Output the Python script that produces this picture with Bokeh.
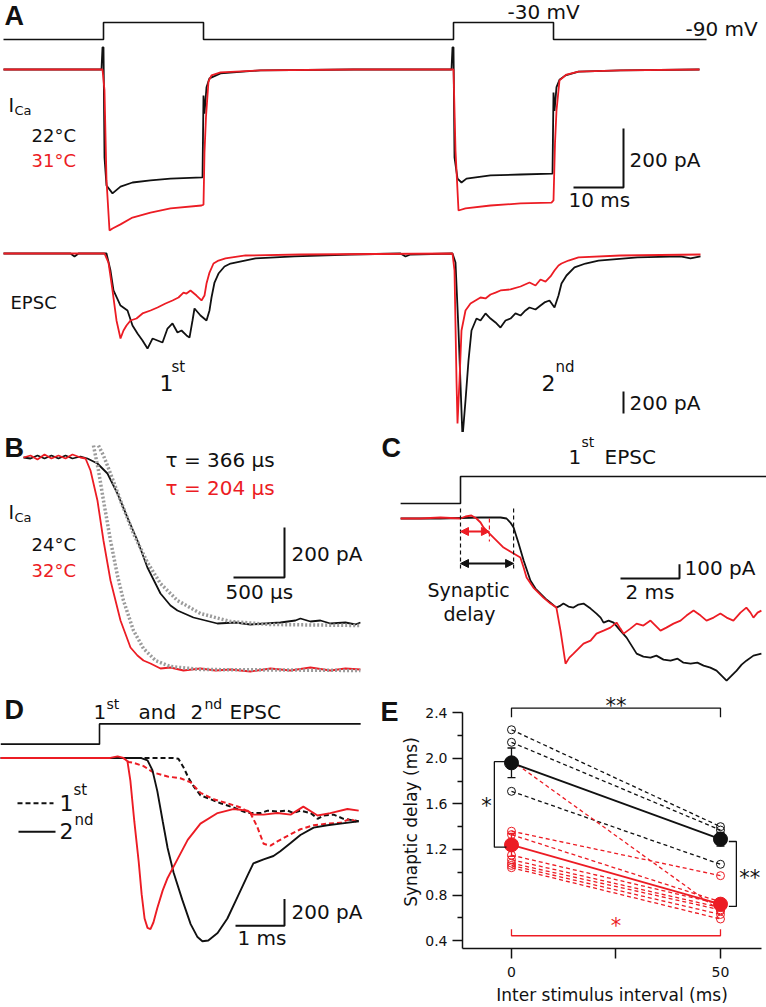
from bokeh.plotting import figure
from bokeh.models import (Range1d, Label, FixedTicker, Arrow, NormalHead, Whisker,
                          TeeHead, ColumnDataSource, PrintfTickFormatter, LinearAxis)
from bokeh.layouts import column, row
from bokeh.embed import file_html
from bokeh.resources import INLINE

FONT = "DejaVu Sans"
BOLD = "Liberation Sans"
BLACK = "#111111"
RED = "#ec1c24"
GRAY = "#9b9b9b"

# =========================== DATA ===========================
# ---- Panel A (time ms, current pA, command mV)
a_cmd = [(0, -90), (20, -90), (20, -30), (40, -30), (40, -90), (90, -90),
         (90, -30), (110, -30), (110, -90), (140.6, -90)]
a_ica_22 = [(0, 0), (19.6, 0), (19.8, 75), (20.0, 75), (20.2, -298), (20.6, -393), (21.8, -420),
            (23.4, -397), (25.8, -383), (29.4, -376), (33.4, -370), (39.8, -366), (40.0, -88),
            (40.2, -150), (40.6, -60), (41.2, -30), (43.4, -13), (51.4, -3), (70, 0), (89.6, 0),
            (89.8, 75), (90.0, 75), (90.2, -298), (90.8, -370), (91.6, -383), (92.6, -370),
            (97.4, -359), (103.4, -356), (109.8, -353), (110.0, -78), (110.2, -140), (110.6, -60),
            (111.2, -35), (112.4, -20), (115.0, -7), (123.4, -3), (139.2, 0)]
a_ica_31 = [(0, 0), (19.8, 0), (20.2, -71), (20.6, -376), (21.2, -546), (21.8, -539), (23.4, -525),
            (25.8, -502), (29.4, -485), (33.4, -471), (39.6, -461), (40.0, -458), (40.2, -280),
            (40.5, -160), (41.0, -40), (41.6, -20), (43.4, -10), (51.4, -3), (70, 0), (90.0, 0),
            (90.4, -275), (91.0, -478), (92.4, -471), (97.4, -461), (103.4, -454), (109.6, -451),
            (110.0, -444), (110.3, -250), (110.6, -139), (111.2, -37), (112.6, -17), (115.0, -7),
            (123.4, -3), (139.2, 0)]
a_epsc_22 = [(0, 0), (13.4, 0), (14.2, -27), (15.0, 0), (20.6, 0), (21.4, -155), (22.0, -336),
             (23.4, -473), (24.8, -518), (25.8, -655), (26.8, -727), (27.8, -791), (28.8, -864),
             (29.8, -773), (30.8, -791), (31.8, -809), (32.8, -682), (33.8, -636), (34.8, -718),
             (35.6, -700), (36.6, -745), (37.2, -764), (37.8, -609), (38.2, -500), (39.4, -564),
             (40.6, -609), (41.2, -518), (41.6, -400), (42.2, -264), (43.0, -182), (44.2, -118),
             (45.4, -91), (50.4, -45), (58.2, -27), (69.4, -9), (79.4, 0), (80.4, -27), (81.4, -9),
             (89.8, 0), (90.4, -82), (91.0, -700), (91.8, -1673), (92.4, -1336), (93.0, -973),
             (93.6, -700), (94.6, -591), (95.4, -609), (96.4, -545), (97.4, -591), (98.4, -627),
             (99.4, -673), (100.4, -609), (101.4, -591), (102.4, -545), (103.4, -564), (104.4, -518),
             (105.2, -491), (106.4, -509), (107.4, -473), (108.2, -445), (109.2, -427), (110.2, -491),
             (111.0, -382), (111.6, -273), (112.6, -200), (114.2, -127), (116.4, -91), (119.0, -64),
             (126.8, -36), (135.4, -27), (137.4, -45), (139.4, -27)]
a_epsc_31 = [(0, 0), (20.2, 0), (21.0, -82), (21.8, -336), (22.6, -609), (23.4, -773), (24.0, -700),
             (24.6, -655), (25.4, -609), (26.6, -591), (27.8, -545), (29.4, -518), (30.8, -491),
             (32.4, -455), (33.8, -427), (35.0, -400), (36.0, -355), (36.6, -364), (37.4, -336),
             (38.6, -382), (39.6, -427), (40.2, -382), (40.6, -273), (41.2, -173), (42.0, -91),
             (43.0, -64), (44.4, -45), (48.4, -18), (59.4, -9), (89.8, 0), (90.2, -155),
             (90.6, -1155), (90.8, -1545), (91.2, -1155), (91.6, -700), (92.4, -518), (93.4, -455),
             (94.4, -427), (95.4, -400), (96.4, -409), (97.4, -373), (98.4, -355), (99.4, -336),
             (101.4, -327), (103.4, -300), (105.2, -264), (106.4, -291), (107.4, -236),
             (108.4, -255), (109.4, -209), (110.2, -155), (111.0, -109), (111.6, -91), (113.0, -64),
             (115.0, -36), (123.4, -18), (139.4, -9)]

# ---- Panel B (time µs, current pA)
b_ica_24 = [(0, 0), (69, -4), (137, 8), (206, -4), (274, 8), (343, -4), (412, 8), (480, -4),
            (559, 4), (627, -4), (725, -24), (823, -64), (921, -144), (1019, -240), (1117, -332),
            (1215, -440), (1343, -544), (1441, -592), (1509, -612), (1666, -640), (1784, -652),
            (1901, -664), (2078, -660), (2225, -668), (2372, -664), (2519, -660), (2666, -652),
            (2715, -644), (2813, -656), (2911, -652), (3009, -664), (3156, -660), (3254, -668),
            (3303, -660)]
b_ica_32 = [(0, 0), (69, 8), (137, -8), (206, 12), (274, -4), (343, 8), (412, -4), (480, 12),
            (559, 0), (608, -4), (657, -52), (725, -172), (784, -332), (853, -492), (951, -652),
            (1049, -760), (1117, -792), (1176, -812), (1245, -824), (1343, -844), (1441, -840),
            (1568, -852), (1735, -844), (1882, -852), (2029, -848), (2225, -856), (2421, -844),
            (2617, -852), (2813, -840), (3009, -852), (3156, -844), (3303, -848)]
b_fit_24 = [(735, 48), (784, 8), (853, -64), (951, -172), (1078, -304), (1215, -420), (1343, -504),
            (1509, -572), (1735, -624), (2029, -656), (2421, -668), (3303, -672)]
b_fit_32 = [(686, 48), (735, -52), (784, -172), (853, -332), (921, -472), (980, -572), (1078, -692),
            (1176, -764), (1294, -812), (1441, -836), (1735, -848), (3303, -852)]
b_tau = ["\u03c4 = 366 \u00b5s", "\u03c4 = 204 \u00b5s"]

# ---- Panel C (time ms from step, current pA, command mV)
c_cmd = [(-2.03, -90), (0, -90), (0, -30), (10.4, -30)]
c_epsc_22 = [(-2.03, 0), (-0.68, 0), (0.68, 7), (1.36, 7), (1.56, 0), (1.69, -28), (1.80, -63),
             (1.97, -175), (2.14, -294), (2.37, -434), (2.54, -490), (2.71, -525), (2.88, -560),
             (3.05, -588), (3.25, -623), (3.39, -609), (3.49, -595), (3.66, -616), (3.83, -623),
             (4.00, -602), (4.17, -595), (4.41, -630), (4.61, -665), (4.75, -693), (4.85, -728),
             (5.02, -714), (5.19, -728), (5.42, -784), (5.63, -833), (5.80, -889), (5.97, -945),
             (6.20, -966), (6.44, -973), (6.64, -959), (6.88, -987), (7.12, -994), (7.36, -980),
             (7.56, -1008), (7.80, -1015), (8.03, -1008), (8.24, -1029), (8.47, -1043),
             (8.68, -1064), (8.85, -1099), (9.02, -1134), (9.19, -1099), (9.36, -1064),
             (9.53, -1022), (9.69, -994), (9.93, -959), (10.20, -945)]
c_epsc_31 = [(-2.03, 0), (-1.36, 0), (-0.68, 7), (0, 0), (0.17, 14), (0.37, 21), (0.54, 0),
             (0.68, -28), (0.78, -63), (0.95, -98), (1.12, -133), (1.29, -168), (1.46, -203),
             (1.63, -224), (1.80, -245), (2.03, -273), (2.14, -343), (2.24, -413), (2.47, -483),
             (2.64, -518), (2.81, -553), (3.05, -595), (3.25, -623), (3.39, -784), (3.56, -1015),
             (3.69, -973), (3.83, -945), (4.00, -910), (4.17, -875), (4.41, -854), (4.61, -805),
             (4.85, -784), (5.08, -763), (5.29, -728), (5.42, -770), (5.53, -805), (5.76, -770),
             (5.97, -735), (6.20, -749), (6.44, -714), (6.61, -749), (6.78, -784), (6.98, -763),
             (7.22, -735), (7.46, -714), (7.66, -679), (7.90, -644), (8.14, -679), (8.34, -714),
             (8.58, -693), (8.81, -665), (9.02, -693), (9.25, -714), (9.49, -658), (9.69, -623),
             (9.83, -658), (9.93, -693), (10.07, -658), (10.20, -644)]
c_delay_22 = 1.80
c_delay_31 = 0.98

# ---- Panel D (time ms from step, current pA, command mV)
d_cmd = [(-2.02, -90), (0, -90), (0, -30), (5.33, -30)]
d_1st_22 = [(-2.02, 0), (1.51, 0), (1.61, -6), (1.71, -67), (1.82, -152), (1.92, -212), (2.06, -279),
            (2.27, -309), (2.47, -339), (2.73, -370), (3.02, -412), (3.29, -412), (3.43, -394),
            (3.63, -400), (3.84, -394), (3.96, -412), (4.10, -394), (4.31, -412), (4.45, -455),
            (4.57, -430), (4.78, -424), (4.98, -455), (5.29, -473)]
d_1st_31 = [(-2.02, 0), (0.49, 0), (0.59, -30), (0.69, -36), (0.90, -61), (1.10, -109), (1.39, -139),
            (1.65, -152), (1.86, -182), (2.06, -261), (2.33, -309), (2.61, -339), (2.88, -370),
            (3.08, -412), (3.22, -515), (3.35, -642), (3.49, -655), (3.63, -624), (3.84, -582),
            (4.10, -533), (4.37, -503), (4.65, -491), (4.92, -485), (5.12, -455), (5.29, -485)]
d_2nd_22 = [(-2.02, 0), (0.84, 0), (0.98, -18), (1.08, -91), (1.18, -248), (1.29, -473), (1.39, -673),
            (1.51, -854), (1.69, -1061), (1.86, -1242), (2.00, -1339), (2.10, -1370), (2.22, -1364),
            (2.41, -1309), (2.61, -1200), (2.82, -1036), (3.02, -879), (3.14, -788), (3.35, -758),
            (3.55, -733), (3.69, -697), (3.90, -636), (4.10, -576), (4.37, -521), (4.65, -503),
            (4.92, -491), (5.29, -473)]
d_2nd_31 = [(-2.02, 0), (0.22, 0), (0.37, 12), (0.49, 0), (0.57, -24), (0.63, -170), (0.71, -473),
            (0.80, -776), (0.86, -1018), (0.92, -1200), (0.98, -1270), (1.04, -1279), (1.10, -1230),
            (1.18, -1121), (1.29, -990), (1.39, -897), (1.59, -758), (1.80, -612), (2.06, -491),
            (2.41, -412), (2.73, -382), (3.02, -394), (3.14, -424), (3.35, -424), (3.63, -412),
            (3.90, -424), (4.16, -364), (4.45, -430), (4.71, -412), (5.06, -382), (5.29, -394)]

# ---- Panel E (inter stimulus interval ms, synaptic delay ms)
e_isi = [0, 50]
e_black_0 = [2.25, 2.14, 1.71]
e_black_50 = [1.40, 1.37, 1.07]
e_red_0 = [1.98, 1.36, 1.33, 1.15, 1.11, 1.08, 1.06, 1.04]
e_red_50 = [0.66, 0.97, 0.74, 0.72, 0.69, 0.67, 0.63, 0.59]
e_black_mean = [1.96, 1.29]
e_black_sem = [0.13, 0.06]
e_red_mean = [1.24, 0.72]
e_red_sem = [0.10, 0.04]


# =========================== HELPERS ===========================
def lin(p0, v0, p1, v1):
    k = (v1 - v0) / (p1 - p0)
    return lambda p: v0 + (p - p0) * k


def panel(w, h, xr, yr, fx, fy):
    p = figure(width=w, height=h, x_range=Range1d(fx(xr[0]), fx(xr[1])),
               y_range=Range1d(fy(yr[1]), fy(yr[0])), x_axis_location=None,
               y_axis_location=None, toolbar_location=None, output_backend="svg",
               min_border=0, outline_line_color=None, background_fill_color="white",
               border_fill_color="white")
    p.grid.visible = False
    return p


def trace(p, pts, color, width=1.8, dash="solid", rng="default"):
    t = [q[0] for q in pts]
    v = [q[1] for q in pts]
    p.line(t, v, line_color=color, line_width=width, line_dash=dash, y_range_name=rng)


def txt(p, fx, fy, x, y, s, size=20, color=BLACK, font=FONT, align="left", style="normal"):
    p.add_layout(Label(x=fx(x), y=fy(y), text=s, text_font=font, text_font_size=f"{size}px",
                       text_color=color, text_align=align, text_baseline="middle",
                       text_font_style=style))


# layout split (pixels of the page)
W = 766
Y_AB, Y_BD, H = 432, 695, 1007

# =========================== PANEL A ===========================
ax = lin(3, 0, 103, 20)
aI = lin(69, 0, 128, -200)
aE = lin(253, 0, 275, -200)
aV = lin(39, -90, 22, -30)
pa = panel(W, Y_AB, (0, W), (0, Y_AB), ax, aI)
pa.extra_y_ranges = {"vm": Range1d(aV(Y_AB), aV(0)), "epsc": Range1d(aE(Y_AB), aE(0))}
trace(pa, a_cmd, BLACK, 1.6, rng="vm")
trace(pa, a_ica_22, BLACK)
trace(pa, a_ica_31, RED)
trace(pa, a_epsc_22, BLACK, rng="epsc")
trace(pa, a_epsc_31, RED, rng="epsc")
x0, y0 = ax(573), aI(187)
pa.line([x0, x0 + 10, x0 + 10], [y0, y0, y0 + 200], line_color=BLACK, line_width=2)
pa.line([x0 + 10, x0 + 10], [aE(413), aE(413) + 200], line_color=BLACK, line_width=2,
        y_range_name="epsc")
txt(pa, ax, aI, 4, 15, "A", 27, font=BOLD, style="bold")
txt(pa, ax, aI, 507, 11, "-30 mV", 20)
txt(pa, ax, aI, 685, 28, "-90 mV", 20)
txt(pa, ax, aI, 8, 104, "I", 19)
txt(pa, ax, aI, 14, 110, "Ca", 13)
txt(pa, ax, aI, 31, 135, "22\u00b0C", 18)
txt(pa, ax, aI, 31, 160, "31\u00b0C", 18, color=RED)
txt(pa, ax, aI, 629, 159, "200 pA", 20)
txt(pa, ax, aI, 568, 199, "10 ms", 20)
txt(pa, ax, aI, 10, 302, "EPSC", 18)
txt(pa, ax, aI, 159, 382, "1", 22)
txt(pa, ax, aI, 171, 366, "st", 15)
txt(pa, ax, aI, 541, 382, "2", 22)
txt(pa, ax, aI, 555, 366, "nd", 15)
txt(pa, ax, aI, 629, 402, "200 pA", 20)

# =========================== PANEL B ===========================
XBC = 378
bx = lin(23, 0, 74, 500)
bI = lin(457, 0, 507, -200)
pb = panel(XBC, Y_BD - Y_AB, (0, XBC), (Y_AB, Y_BD), bx, bI)
trace(pb, b_ica_24, BLACK)
trace(pb, b_ica_32, RED)
trace(pb, b_fit_24, GRAY, 3.5, "2 2")
trace(pb, b_fit_32, GRAY, 3.5, "2 2")
x0, y0 = bx(233), bI(577)
pb.line([x0, x0 + 500, x0 + 500], [y0, y0, y0 + 200], line_color=BLACK, line_width=2)
txt(pb, bx, bI, 4, 447, "B", 27, font=BOLD, style="bold")
txt(pb, bx, bI, 165, 459, b_tau[0], 20)
txt(pb, bx, bI, 165, 487, b_tau[1], 20, color=RED)
txt(pb, bx, bI, 8, 511, "I", 19)
txt(pb, bx, bI, 14, 517, "Ca", 13)
txt(pb, bx, bI, 31, 544, "24\u00b0C", 18)
txt(pb, bx, bI, 31, 570, "32\u00b0C", 18, color=RED)
txt(pb, bx, bI, 291, 553, "200 pA", 20)
txt(pb, bx, bI, 225, 591, "500 \u00b5s", 20)

# =========================== PANEL C ===========================
cx = lin(460, 0, 519, 2)
cI = lin(518, 0, 532.3, -100)
cV = lin(503, -90, 476, -30)
pc = panel(W - XBC, Y_BD - Y_AB, (XBC, W), (Y_AB, Y_BD), cx, cI)
pc.extra_y_ranges = {"vm": Range1d(cV(Y_BD), cV(Y_AB))}
trace(pc, c_cmd, BLACK, 1.6, rng="vm")
trace(pc, c_epsc_22, BLACK)
trace(pc, c_epsc_31, RED)
pc.segment(x0=[0, c_delay_22], x1=[0, c_delay_22], y0=[cI(508)] * 2, y1=[cI(568)] * 2,
           line_color=BLACK, line_width=1.2, line_dash="4 3")
pc.segment(x0=[c_delay_31], x1=[c_delay_31], y0=[cI(518)], y1=[cI(541)],
           line_color=RED, line_width=1.2, line_dash="4 3")
for d, yy, col in [(c_delay_31, cI(531), RED), (c_delay_22, cI(563), BLACK)]:
    pc.add_layout(Arrow(start=NormalHead(size=8, fill_color=col, line_color=col),
                        end=NormalHead(size=8, fill_color=col, line_color=col),
                        x_start=0, y_start=yy, x_end=d, y_end=yy, line_color=col, line_width=2))
x0, y0 = cx(620), cI(578)
pc.line([x0, x0 + 2, x0 + 2], [y0, y0, y0 + 100], line_color=BLACK, line_width=2)
txt(pc, cx, cI, 381, 447, "C", 27, font=BOLD, style="bold")
txt(pc, cx, cI, 568, 456, "1", 20)
txt(pc, cx, cI, 581, 441, "st", 14)
txt(pc, cx, cI, 604, 456, "EPSC", 20)
txt(pc, cx, cI, 468, 589, "Synaptic", 19, align="center")
txt(pc, cx, cI, 469, 613, "delay", 19, align="center")
txt(pc, cx, cI, 684, 567, "100 pA", 20)
txt(pc, cx, cI, 625, 591, "2 ms", 20)

# =========================== PANEL D ===========================
XDE = 375
dx = lin(99, 0, 148, 1)
dI = lin(772, 0, 805, -200)
dV = lin(755, -90, 730, -30)
pd = panel(XDE, H - Y_BD, (0, XDE), (Y_BD, H), dx, dI)
pd.extra_y_ranges = {"vm": Range1d(dV(H), dV(Y_BD))}
trace(pd, d_cmd, BLACK, 1.6, rng="vm")
trace(pd, d_1st_22, BLACK, 2, "5 3")
trace(pd, d_1st_31, RED, 2, "5 3")
trace(pd, d_2nd_22, BLACK, 1.9)
trace(pd, d_2nd_31, RED, 1.9)
pd.line([dx(17), dx(53)], [dI(828)] * 2, line_color=BLACK, line_width=2, line_dash="5 3")
pd.line([dx(18), dx(55)], [dI(863)] * 2, line_color=BLACK, line_width=2)
x0, y0 = dx(235), dI(979)
pd.line([x0, x0 + 1, x0 + 1], [y0, y0, y0 + 200], line_color=BLACK, line_width=2)
txt(pd, dx, dI, 4, 713, "D", 27, font=BOLD, style="bold")
txt(pd, dx, dI, 93, 715, "1", 20)
txt(pd, dx, dI, 106, 705, "st", 14)
txt(pd, dx, dI, 138, 715, "and", 20)
txt(pd, dx, dI, 190, 715, "2", 20)
txt(pd, dx, dI, 204, 705, "nd", 14)
txt(pd, dx, dI, 229, 715, "EPSC", 20)
txt(pd, dx, dI, 59, 827, "1", 22)
txt(pd, dx, dI, 73, 812, "st", 15)
txt(pd, dx, dI, 59, 862, "2", 22)
txt(pd, dx, dI, 74, 848, "nd", 15)
txt(pd, dx, dI, 291, 962, "200 pA", 20)
txt(pd, dx, dI, 237, 994, "1 ms", 20)

# =========================== PANEL E ===========================
pe = figure(width=W - XDE, height=H - Y_BD, x_range=Range1d(-11.72, 59.81),
            y_range=Range1d(0.3312, 2.5505), toolbar_location=None, output_backend="svg",
            min_border_left=87, min_border_right=5, min_border_top=0, min_border_bottom=54,
            outline_line_color=None, background_fill_color="white", border_fill_color="white")
pe.grid.visible = False
pe.xaxis.ticker = FixedTicker(ticks=[0, 25, 50])
pe.xaxis.major_label_overrides = {25: ""}
pe.yaxis.ticker = FixedTicker(ticks=[0.4, 0.8, 1.2, 1.6, 2.0, 2.4],
                              minor_ticks=[0.6, 1.0, 1.4, 1.8, 2.2])
pe.yaxis.formatter = PrintfTickFormatter(format="%.1f")
pe.yaxis.bounds = (0.3312, 2.4)
pe.xaxis.axis_label = "Inter stimulus interval (ms)"
pe.yaxis.axis_label = "Synaptic delay (ms)"
for a in pe.axis:
    a.axis_line_width = 1.5
    a.axis_line_color = BLACK
    a.major_tick_line_width = 1.5
    a.major_tick_line_color = BLACK
    a.minor_tick_line_color = BLACK
    a.minor_tick_line_width = 1.5
    a.major_tick_in = 0
    a.major_tick_out = 10
    a.minor_tick_in = 0
    a.minor_tick_out = 5
    a.major_label_text_font = FONT
    a.major_label_text_font_size = "14px"
    a.major_label_text_color = BLACK
    a.axis_label_text_font = FONT
    a.axis_label_text_font_size = "17px"
    a.axis_label_text_font_style = "normal"
    a.axis_label_text_color = BLACK
pe.xaxis.major_label_standoff = 8
pe.xaxis.axis_label_standoff = 5
pe.yaxis.major_label_standoff = 5
pe.yaxis.axis_label_standoff = 1

nb, nr = len(e_black_0), len(e_red_0)
pe.multi_line(xs=[e_isi] * nb, ys=[[u, v] for u, v in zip(e_black_0, e_black_50)],
              line_color=BLACK, line_width=1.3, line_dash="4 3")
pe.multi_line(xs=[e_isi] * nr, ys=[[u, v] for u, v in zip(e_red_0, e_red_50)],
              line_color=RED, line_width=1.3, line_dash="4 3")
pe.scatter([e_isi[0]] * nb + [e_isi[1]] * nb, e_black_0 + e_black_50, marker="circle", size=8,
           fill_color=None, line_color=BLACK, line_width=1)
pe.scatter([e_isi[0]] * nr + [e_isi[1]] * nr, e_red_0 + e_red_50, marker="circle", size=8,
           fill_color=None, line_color=RED, line_width=1)
for mean, sem, col in [(e_black_mean, e_black_sem, BLACK), (e_red_mean, e_red_sem, RED)]:
    pe.line(e_isi, mean, line_color=col, line_width=1.8)
    src = ColumnDataSource(dict(x=e_isi, upper=[m + s for m, s in zip(mean, sem)],
                                lower=[m - s for m, s in zip(mean, sem)]))
    pe.add_layout(Whisker(source=src, base="x", upper="upper", lower="lower", line_color=col,
                          line_width=1.3, level="glyph",
                          upper_head=TeeHead(size=8, line_color=col, line_width=1.3),
                          lower_head=TeeHead(size=8, line_color=col, line_width=1.3)))
    pe.scatter(e_isi, mean, marker="circle", size=14, fill_color=col, line_color=col)

# significance brackets
pe.line([0, 0, 50, 50], [2.36, 2.44, 2.44, 2.36], line_color=BLACK, line_width=1.3)
pe.line([-1.2, -4.1, -4.1, -1.2], [1.97, 1.97, 1.22, 1.22], line_color=BLACK, line_width=1.3)
pe.line([52, 53.8, 53.8, 52], [1.27, 1.27, 0.70, 0.70], line_color=BLACK, line_width=1.3)
pe.line([0, 0, 50, 50], [0.50, 0.443, 0.443, 0.50], line_color=RED, line_width=1.3)
for xx, yy, s, col in [(25, 2.455, "**", BLACK), (-6.0, 1.58, "*", BLACK),
                       (57.0, 0.95, "**", BLACK), (25, 0.53, "*", RED)]:
    pe.add_layout(Label(x=xx, y=yy, text=s, text_font=FONT, text_font_size="21px",
                        text_color=col, text_align="center", text_baseline="middle"))

# panel letter "E": an extra left axis with a single, unmarked tick whose label is the letter
e_letter = LinearAxis(ticker=FixedTicker(ticks=[2.43]), major_label_overrides={2.43: "E"},
                      axis_line_color=None, major_tick_line_color=None,
                      minor_tick_line_color=None, major_tick_out=0, major_tick_in=0,
                      major_label_standoff=0, major_label_text_font=BOLD,
                      major_label_text_font_style="bold", major_label_text_font_size="27px",
                      major_label_text_color=BLACK)
pe.add_layout(e_letter, "left")

layout = column(pa, row(pb, pc), row(pd, pe))
open("out.html", "w").write(file_html(layout, INLINE))
